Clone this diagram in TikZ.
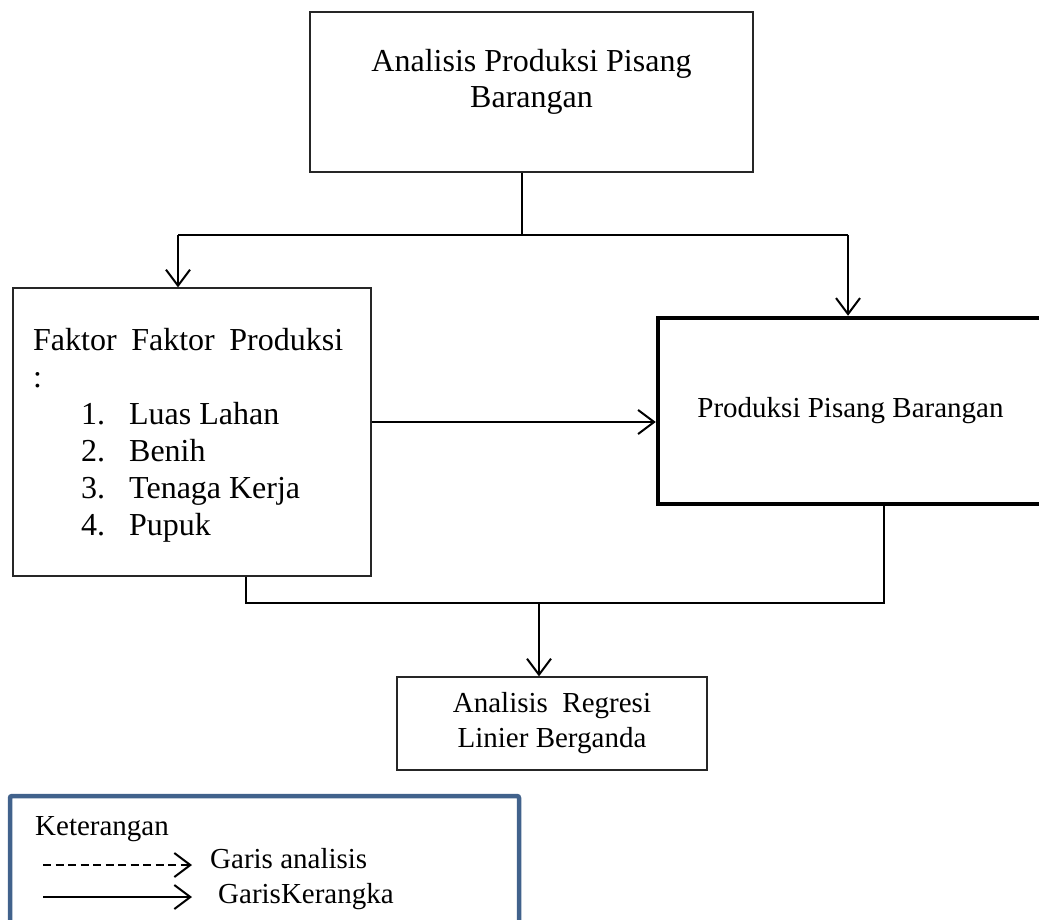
\documentclass[tikz,border=0pt]{standalone}
\usepackage{fontspec}
\setmainfont{Liberation Serif}
\usetikzlibrary{arrows.meta}
\definecolor{ketblue}{RGB}{65,98,140}
\begin{document}
\begin{tikzpicture}[x=1pt,y=-1pt,
            box/.style={rectangle,draw=black!85,line width=1.3pt,inner sep=0pt},
            big/.style={inner sep=0pt,font=\fontsize{32}{36}\selectfont},
            small/.style={inner sep=0pt,font=\fontsize{29}{35}\selectfont},
            conn/.style={line width=2pt},
            arr/.style={conn,-{Straight Barb[length=16pt,width=24pt]}}
        ]
            \useasboundingbox (0,0) rectangle (1039,920);

            \node[box,minimum width=443pt,minimum height=160pt] (judul) at (531.5,92) {};
            \node[big,align=center,anchor=base] (judultxt) at (531.5,108) {Analisis Produksi Pisang\\Barangan};

            \node[box,minimum width=358pt,minimum height=288pt] (faktor) at (192,432) {};
            \node[big,align=left,anchor=base west,font=\fontsize{32}{37}\selectfont] (faktortxt) at (33,535)
                {\makebox[310pt][s]{Faktor Faktor Produksi}\\
                 :\\
                 \hspace*{48pt}\makebox[48pt][l]{1.}Luas Lahan\\
                 \hspace*{48pt}\makebox[48pt][l]{2.}Benih\\
                 \hspace*{48pt}\makebox[48pt][l]{3.}Tenaga Kerja\\
                 \hspace*{48pt}\makebox[48pt][l]{4.}Pupuk};

            \node[box,small,draw=black,line width=4.5pt,minimum width=385pt,minimum height=186pt] (produksi) at (850.5,411) {Produksi Pisang Barangan};

            \node[box,small,align=center,minimum width=310pt,minimum height=93pt] (regresi) at (552,723.5) {Analisis\ \ Regresi\\Linier Berganda};

            \coordinate (cabang) at (522,235);
            \coordinate (kiri) at (178,235);
            \coordinate (kanan) at (848,235);
            \draw[conn] (judul.south -| cabang) -- (cabang);
            \draw[conn] (kiri) -- (kanan);
            \draw[arr] (kiri) -- (kiri |- faktor.north);
            \draw[arr] (kanan) -- (kanan |- produksi.north);

            \draw[arr] ([yshift=10pt]faktor.east) -- ([yshift=10pt]faktor.east -| produksi.west);

            \coordinate (fk) at (246,603);
            \coordinate (pk) at (884,603);
            \coordinate (gabung) at (539,603);
            \draw[conn] (faktor.south -| fk) -- (fk) -- (pk) -- (produksi.south -| pk);
            \draw[arr] (gabung) -- (gabung |- regresi.north);

            \node[draw=ketblue,line width=4.5pt,rounded corners=2pt,minimum width=509pt,minimum height=134pt] (ket) at (264.5,863) {};
            \node[small,anchor=base west] (kettxt) at (35,835) {Keterangan};
            \coordinate (d1) at (43,865);
            \coordinate (d2) at (192,865);
            \coordinate (s1) at (43,897);
            \coordinate (s2) at (192,897);
            \draw[arr,dash pattern=on 8pt off 4.5pt] (d1) -- (d2);
            \draw[arr] (s1) -- (s2);
            \node[small,anchor=base west] (analisis) at (210,868) {Garis analisis};
            \node[small,anchor=base west] (kerangka) at (218,903) {GarisKerangka};
        \end{tikzpicture}
\end{document}
